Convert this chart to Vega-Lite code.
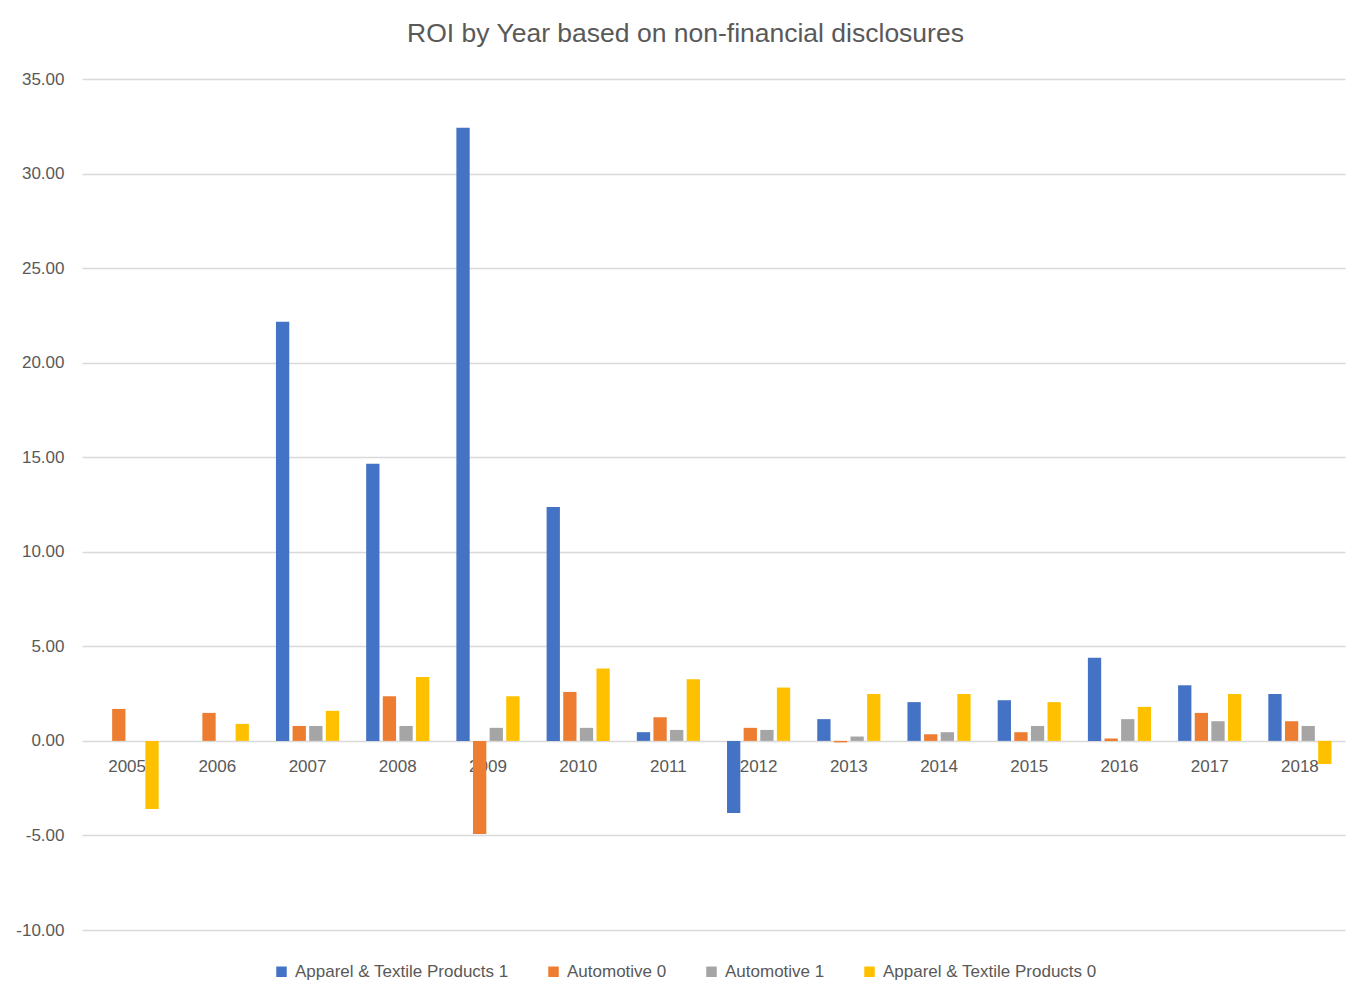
{
  "$schema": "https://vega.github.io/schema/vega-lite/v6.json",
  "width": 1263,
  "height": 851,
  "autosize": {"type": "none"},
  "padding": {"left": 82, "top": 79, "right": 24, "bottom": 72},
  "background": "white",
  "title": {"text": "ROI by Year based on non-financial disclosures", "fontSize": 26.5, "font": "Liberation Sans", "fontWeight": "normal", "color": "#595959", "offset": 2, "anchor": "middle", "baseline": "alphabetic", "dx": -28},
  "data": {"values": [
    {"year": "2005", "series": "Automotive 0", "roi": 1.69},
    {"year": "2005", "series": "Apparel & Textile Products 0", "roi": -3.6},
    {"year": "2006", "series": "Automotive 0", "roi": 1.48},
    {"year": "2006", "series": "Apparel & Textile Products 0", "roi": 0.9},
    {"year": "2007", "series": "Apparel & Textile Products 1", "roi": 22.16},
    {"year": "2007", "series": "Automotive 0", "roi": 0.79},
    {"year": "2007", "series": "Automotive 1", "roi": 0.79},
    {"year": "2007", "series": "Apparel & Textile Products 0", "roi": 1.59},
    {"year": "2008", "series": "Apparel & Textile Products 1", "roi": 14.65},
    {"year": "2008", "series": "Automotive 0", "roi": 2.36},
    {"year": "2008", "series": "Automotive 1", "roi": 0.79},
    {"year": "2008", "series": "Apparel & Textile Products 0", "roi": 3.38},
    {"year": "2009", "series": "Apparel & Textile Products 1", "roi": 32.42},
    {"year": "2009", "series": "Automotive 0", "roi": -4.92},
    {"year": "2009", "series": "Automotive 1", "roi": 0.69},
    {"year": "2009", "series": "Apparel & Textile Products 0", "roi": 2.36},
    {"year": "2010", "series": "Apparel & Textile Products 1", "roi": 12.37},
    {"year": "2010", "series": "Automotive 0", "roi": 2.59},
    {"year": "2010", "series": "Automotive 1", "roi": 0.69},
    {"year": "2010", "series": "Apparel & Textile Products 0", "roi": 3.83},
    {"year": "2011", "series": "Apparel & Textile Products 1", "roi": 0.46},
    {"year": "2011", "series": "Automotive 0", "roi": 1.25},
    {"year": "2011", "series": "Automotive 1", "roi": 0.58},
    {"year": "2011", "series": "Apparel & Textile Products 0", "roi": 3.26},
    {"year": "2012", "series": "Apparel & Textile Products 1", "roi": -3.81},
    {"year": "2012", "series": "Automotive 0", "roi": 0.69},
    {"year": "2012", "series": "Automotive 1", "roi": 0.58},
    {"year": "2012", "series": "Apparel & Textile Products 0", "roi": 2.82},
    {"year": "2013", "series": "Apparel & Textile Products 1", "roi": 1.15},
    {"year": "2013", "series": "Automotive 0", "roi": -0.08},
    {"year": "2013", "series": "Automotive 1", "roi": 0.23},
    {"year": "2013", "series": "Apparel & Textile Products 0", "roi": 2.48},
    {"year": "2014", "series": "Apparel & Textile Products 1", "roi": 2.05},
    {"year": "2014", "series": "Automotive 0", "roi": 0.35},
    {"year": "2014", "series": "Automotive 1", "roi": 0.46},
    {"year": "2014", "series": "Apparel & Textile Products 0", "roi": 2.48},
    {"year": "2015", "series": "Apparel & Textile Products 1", "roi": 2.15},
    {"year": "2015", "series": "Automotive 0", "roi": 0.46},
    {"year": "2015", "series": "Automotive 1", "roi": 0.79},
    {"year": "2015", "series": "Apparel & Textile Products 0", "roi": 2.05},
    {"year": "2016", "series": "Apparel & Textile Products 1", "roi": 4.39},
    {"year": "2016", "series": "Automotive 0", "roi": 0.12},
    {"year": "2016", "series": "Automotive 1", "roi": 1.15},
    {"year": "2016", "series": "Apparel & Textile Products 0", "roi": 1.8},
    {"year": "2017", "series": "Apparel & Textile Products 1", "roi": 2.94},
    {"year": "2017", "series": "Automotive 0", "roi": 1.48},
    {"year": "2017", "series": "Automotive 1", "roi": 1.04},
    {"year": "2017", "series": "Apparel & Textile Products 0", "roi": 2.48},
    {"year": "2018", "series": "Apparel & Textile Products 1", "roi": 2.48},
    {"year": "2018", "series": "Automotive 0", "roi": 1.04},
    {"year": "2018", "series": "Automotive 1", "roi": 0.79},
    {"year": "2018", "series": "Apparel & Textile Products 0", "roi": -1.22}
  ]},
  "mark": {"type": "bar"},
  "encoding": {
    "x": {
      "field": "year", "type": "nominal",
      "scale": {"paddingInner": 0.3, "paddingOuter": 0.15},
      "axis": {"title": null, "labelAngle": 0, "domain": false, "ticks": false, "tickSize": 0, "offset": -189, "labelPadding": 17, "labelFont": "Liberation Sans", "labelFontSize": 17, "labelColor": "#595959", "labelBaseline": "top"}
    },
    "xOffset": {
      "field": "series", "type": "nominal",
      "sort": ["Apparel & Textile Products 1", "Automotive 0", "Automotive 1", "Apparel & Textile Products 0"],
      "scale": {"paddingInner": 0.2}
    },
    "y": {
      "field": "roi", "type": "quantitative",
      "scale": {"domain": [-10, 35], "nice": false, "zero": false},
      "axis": {"title": null, "values": [-10, -5, 0, 5, 10, 15, 20, 25, 30, 35], "labelExpr": "replace(format(datum.value, '.2f'), '\u2212', '-')", "domain": false, "ticks": false, "tickSize": 0, "labelPadding": 18, "labelFont": "Liberation Sans", "labelFontSize": 17, "labelColor": "#595959", "gridColor": "#d9d9d9", "gridWidth": 1.3}
    },
    "color": {
      "field": "series", "type": "nominal",
      "sort": ["Apparel & Textile Products 1", "Automotive 0", "Automotive 1", "Apparel & Textile Products 0"],
      "scale": {"domain": ["Apparel & Textile Products 1", "Automotive 0", "Automotive 1", "Apparel & Textile Products 0"], "range": ["#4472C4", "#ED7D31", "#A5A5A5", "#FFC000"]},
      "legend": {"title": null, "orient": "none", "direction": "horizontal", "legendX": 191, "legendY": 884, "symbolType": "square", "symbolSize": 110, "symbolStrokeWidth": 0, "labelFont": "Liberation Sans", "labelFontSize": 17, "labelColor": "#595959", "labelOffset": 5, "labelLimit": 400, "columnPadding": 36}
    }
  },
  "config": {"view": {"stroke": null}}
}
